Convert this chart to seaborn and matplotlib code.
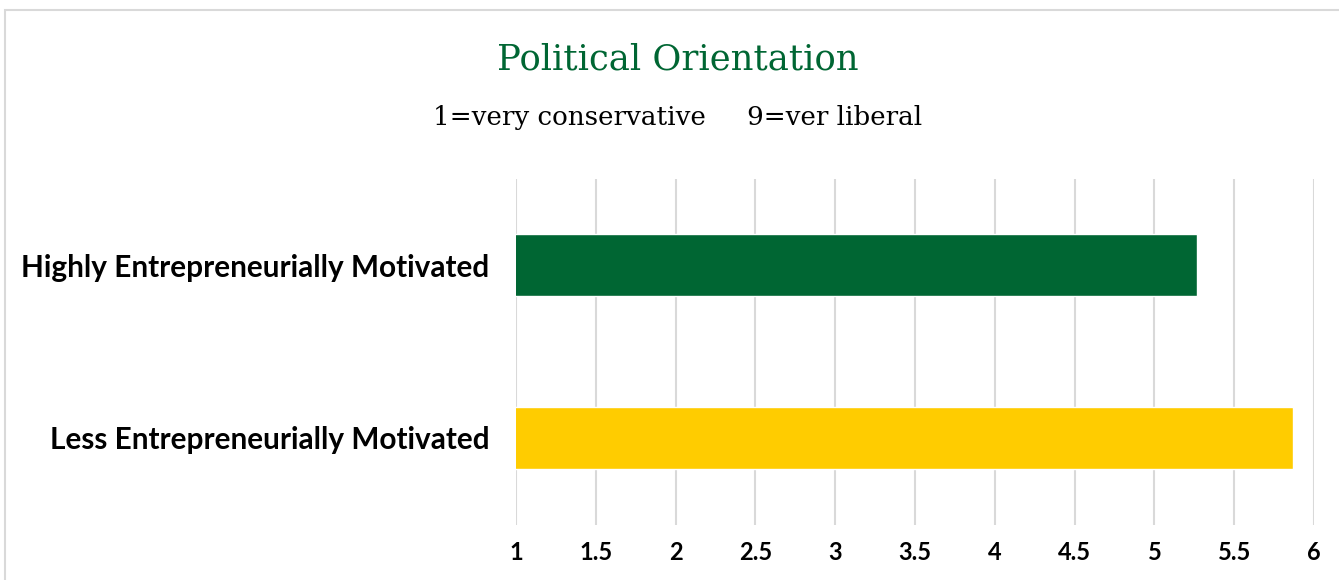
import matplotlib
matplotlib.use("Agg")
import matplotlib.pyplot as plt
import seaborn as sns
import pandas as pd
from matplotlib.patches import Rectangle

groups = ["Highly Entrepreneurially Motivated", "Less Entrepreneurially Motivated"]
scores = [5.27, 5.87]
colors = ["#006633", "#FFCC00"]
xticks = [1, 1.5, 2, 2.5, 3, 3.5, 4, 4.5, 5, 5.5, 6]

df = pd.DataFrame({"group": groups, "score": scores})

sns.set_style("white")
fig = plt.figure(figsize=(13.39, 5.8), dpi=100)
ax = fig.add_axes([516 / 1339, 55.5 / 580, (1314 - 516) / 1339, 346 / 580])

sns.barplot(data=df, x="score", y="group", hue="group", palette=colors,
            legend=False, width=0.36, ax=ax, saturation=1)

ax.set_xlim(1, 6)
ax.set_xticks(xticks)
ax.set_xticklabels([f"{t:g}" for t in xticks], fontfamily="Lato", fontweight="bold",
                   fontsize=17, color="black")
ax.set_yticklabels(groups, fontfamily="Lato", fontweight="bold", fontsize=21.4, color="black")
ax.tick_params(axis="x", length=0, pad=12)
ax.tick_params(axis="y", length=0, pad=19)
ax.set_xlabel("")
ax.set_ylabel("")
ax.grid(axis="x", color="#d9d9d9", linewidth=1.5)
ax.set_axisbelow(True)
for s in ax.spines.values():
    s.set_visible(False)

fig.text(678 / 1339, 1 - 60 / 580, "Political Orientation", ha="center", va="center",
         color="#006633", fontsize=25.5, fontfamily="DejaVu Serif")
fig.text(678 / 1339, 1 - 117 / 580, "1=very conservative     9=ver liberal", ha="center", va="center",
         color="black", fontsize=18.8, fontfamily="DejaVu Serif")

# light frame around the chart area
fig.patches.append(Rectangle((5 / 1339, -0.1), 1.1, 1 - 10 / 580 + 0.1, transform=fig.transFigure,
                             fill=False, edgecolor="#d9d9d9", linewidth=1.5))

fig.savefig("out.png", dpi=100)
